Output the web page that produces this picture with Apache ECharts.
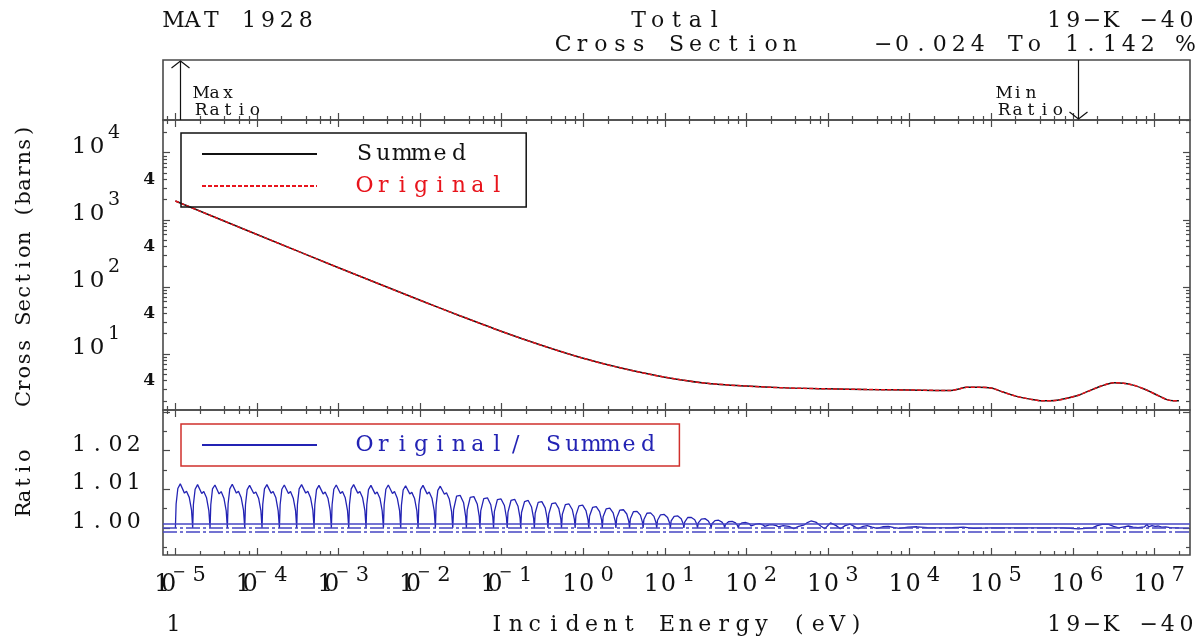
<!DOCTYPE html>
<html>
<head>
<meta charset="utf-8">
<title>MAT 1928 Total Cross Section</title>
<script src="https://cdn.jsdelivr.net/npm/echarts@6/dist/echarts.min.js"></script>
<style>
html,body{margin:0;padding:0;background:#fff;}
#chart{width:1197px;height:638px;}
</style>
</head>
<body>
<div id="chart"></div>
<script>

// labelled decades of the energy axis (exponents)
const xDecades = [-5,-4,-3,-2,-1,0,1,2,3,4,5,6,7]
// labelled decades of the cross section axis
const csDecades = [10,100,1000,10000]
const csFours = [4,40,400,4000]
const ratioLabels = [1.00,1.01,1.02]
// reference lines of the ratio panel
const ratioRefs = [1.001,1.000,0.999]

// Summed total cross section (eV, barns) - Original overlays it
const csEnergy = [1e-5,1e-4,1e-3,1e-2,3e-2,1e-1,3e-1,1,3,10,30,100,300,1e3,3e3,1e4,3.2e4,4e4,5e4,7e4,1e5,1.4e5,2e5,3e5,4.2e5,6e5,8.5e5,1.2e6,1.5e6,2.2e6,3.2e6,4.2e6,5.5e6,7.5e6,1e7,1.4e7,1.7e7,2e7]
const csSummed = [1900,603,193,63,37.5,21.6,13.6,8.6,6.1,4.5,3.7,3.32,3.12,3.02,2.95,2.9,2.85,3.0,3.19,3.2,3.1,2.7,2.35,2.12,2.0,2.02,2.18,2.45,2.74,3.3,3.73,3.66,3.43,3.0,2.55,2.1,2.0,2.0]

// Original/Summed ratio: [log10(E/eV), ratio]
const ratioPts = [
[-5.000,1.0000],[-4.991,1.0062],[-4.970,1.0102],[-4.940,1.0114],[-4.889,1.0090],[-4.864,1.0095],[-4.830,1.0079],[-4.802,1.0046],
[-4.788,1.0000],[-4.779,1.0061],[-4.758,1.0100],[-4.728,1.0112],[-4.677,1.0089],[-4.652,1.0094],[-4.618,1.0078],[-4.590,1.0045],
[-4.575,1.0000],[-4.566,1.0060],[-4.545,1.0101],[-4.515,1.0111],[-4.464,1.0088],[-4.439,1.0094],[-4.405,1.0077],[-4.377,1.0044],
[-4.363,1.0000],[-4.354,1.0062],[-4.333,1.0101],[-4.303,1.0113],[-4.252,1.0090],[-4.227,1.0095],[-4.193,1.0078],[-4.165,1.0046],
[-4.150,1.0000],[-4.141,1.0060],[-4.120,1.0099],[-4.090,1.0110],[-4.039,1.0089],[-4.014,1.0093],[-3.980,1.0077],[-3.952,1.0045],
[-3.938,1.0000],[-3.929,1.0061],[-3.908,1.0101],[-3.878,1.0112],[-3.827,1.0090],[-3.802,1.0094],[-3.768,1.0078],[-3.740,1.0044],
[-3.725,1.0000],[-3.716,1.0060],[-3.695,1.0100],[-3.665,1.0111],[-3.614,1.0089],[-3.589,1.0094],[-3.555,1.0077],[-3.527,1.0045],
[-3.513,1.0000],[-3.504,1.0061],[-3.483,1.0101],[-3.453,1.0112],[-3.402,1.0090],[-3.377,1.0095],[-3.343,1.0078],[-3.315,1.0046],
[-3.300,1.0000],[-3.291,1.0060],[-3.270,1.0099],[-3.240,1.0110],[-3.189,1.0088],[-3.164,1.0093],[-3.130,1.0077],[-3.102,1.0044],
[-3.088,1.0000],[-3.079,1.0060],[-3.058,1.0100],[-3.028,1.0111],[-2.977,1.0089],[-2.952,1.0094],[-2.918,1.0078],[-2.890,1.0045],
[-2.875,1.0000],[-2.866,1.0061],[-2.845,1.0101],[-2.815,1.0112],[-2.764,1.0090],[-2.739,1.0094],[-2.705,1.0078],[-2.677,1.0045],
[-2.663,1.0000],[-2.654,1.0060],[-2.633,1.0099],[-2.603,1.0110],[-2.552,1.0088],[-2.527,1.0093],[-2.493,1.0077],[-2.465,1.0044],
[-2.450,1.0000],[-2.441,1.0060],[-2.420,1.0100],[-2.390,1.0111],[-2.339,1.0089],[-2.314,1.0094],[-2.280,1.0077],[-2.252,1.0045],
[-2.238,1.0000],[-2.229,1.0059],[-2.208,1.0098],[-2.178,1.0109],[-2.127,1.0088],[-2.102,1.0092],[-2.068,1.0076],[-2.040,1.0044],
[-2.025,1.0000],[-2.016,1.0060],[-1.995,1.0099],[-1.965,1.0110],[-1.914,1.0088],[-1.889,1.0093],[-1.855,1.0077],[-1.827,1.0044],
[-1.813,1.0000],[-1.804,1.0059],[-1.783,1.0097],[-1.753,1.0108],[-1.702,1.0087],[-1.677,1.0091],[-1.643,1.0075],[-1.615,1.0043],
[-1.600,1.0000],[-1.590,1.0047],[-1.553,1.0082],[-1.508,1.0084],[-1.467,1.0065],[-1.442,1.0030],
[-1.433,1.0000],[-1.423,1.0046],[-1.386,1.0079],[-1.341,1.0081],[-1.300,1.0062],[-1.275,1.0029],
[-1.267,1.0000],[-1.257,1.0044],[-1.220,1.0076],[-1.175,1.0078],[-1.134,1.0060],[-1.109,1.0028],
[-1.100,1.0000],[-1.090,1.0042],[-1.053,1.0073],[-1.008,1.0075],[-0.967,1.0058],[-0.942,1.0027],
[-0.933,1.0000],[-0.923,1.0041],[-0.886,1.0071],[-0.841,1.0074],[-0.800,1.0056],[-0.775,1.0026],
[-0.767,1.0000],[-0.757,1.0040],[-0.720,1.0068],[-0.675,1.0071],[-0.634,1.0054],[-0.609,1.0025],
[-0.600,1.0000],[-0.590,1.0038],[-0.553,1.0066],[-0.508,1.0068],[-0.467,1.0052],[-0.442,1.0024],
[-0.433,1.0000],[-0.423,1.0036],[-0.386,1.0063],[-0.341,1.0065],[-0.300,1.0050],[-0.275,1.0023],
[-0.267,1.0000],[-0.257,1.0035],[-0.220,1.0060],[-0.175,1.0062],[-0.134,1.0047],[-0.109,1.0022],
[-0.100,1.0000],[-0.090,1.0033],[-0.053,1.0057],[-0.008,1.0059],[0.033,1.0045],[0.058,1.0021],
[0.067,1.0000],[0.077,1.0031],[0.114,1.0053],[0.159,1.0055],[0.200,1.0042],[0.225,1.0020],
[0.233,1.0000],[0.243,1.0029],[0.280,1.0049],[0.325,1.0051],[0.366,1.0039],[0.391,1.0018],
[0.400,1.0000],[0.410,1.0026],[0.447,1.0046],[0.492,1.0047],[0.533,1.0036],[0.558,1.0017],
[0.567,1.0000],[0.577,1.0024],[0.614,1.0042],[0.659,1.0043],[0.700,1.0033],[0.725,1.0015],
[0.733,1.0000],[0.743,1.0022],[0.780,1.0038],[0.825,1.0039],[0.866,1.0030],[0.891,1.0014],
[0.900,1.0000],[0.910,1.0020],[0.947,1.0034],[0.992,1.0035],[1.033,1.0027],[1.058,1.0013],
[1.067,1.0000],[1.077,1.0018],[1.114,1.0030],[1.159,1.0031],[1.200,1.0024],[1.225,1.0011],
[1.233,1.0000],[1.243,1.0015],[1.280,1.0027],[1.325,1.0027],[1.366,1.0021],[1.391,1.0010],
[1.400,1.0000],[1.410,1.0013],[1.447,1.0023],[1.492,1.0024],[1.533,1.0018],[1.558,1.0008],
[1.567,1.0000],[1.577,1.0011],[1.614,1.0019],[1.659,1.0020],[1.700,1.0015],[1.725,1.0007],
[1.733,1.0000],[1.743,1.0009],[1.780,1.0016],[1.825,1.0017],[1.866,1.0013],[1.891,1.0006],
[1.900,1.0000],[1.910,1.0008],[1.947,1.0013],[1.992,1.0014],[2.033,1.0011],[2.058,1.0005],
[2.067,1.0000],[2.077,1.0006],[2.114,1.0010],[2.159,1.0011],[2.200,1.0008],[2.225,1.0004],
[2.233,1.0000],[2.243,1.0004],[2.280,1.0008],[2.325,1.0008],[2.366,1.0006],[2.391,1.0003],
[2.400,1.0000],[2.45,1.0006],[2.52,1.0004],[2.58,0.9998],[2.64,1.0004],[2.70,1.0007],[2.74,1.0013],[2.79,1.0018],
[2.85,1.0015],[2.91,1.0005],[2.96,0.9998],[3.03,1.0013],[3.10,1.0006],[3.15,0.9998],[3.21,1.0006],[3.27,1.0010],
[3.32,1.0004],[3.37,0.9998],[3.43,1.0004],[3.48,1.0006],[3.54,1.0002],[3.60,0.9999],[3.67,1.0003],[3.74,1.0004],
[3.81,1.0001],[3.88,0.9999],[3.98,1.0002],[4.09,1.0003],[4.22,1.0001],[4.37,1.0000],[4.52,1.0001],[4.66,1.0002],
[4.78,0.9999],[5.00,1.0000],[5.50,1.0000],[5.88,1.0000],[5.97,0.9999],[6.07,0.99976],[6.16,0.9999],[6.24,1.0000],
[6.30,1.0006],[6.36,1.0009],[6.44,1.0009],[6.50,1.0004],[6.56,1.0000],[6.63,1.0003],[6.68,1.0005],[6.74,1.0002],
[6.80,1.0001],[6.88,1.0003],[6.91,1.0009],[6.93,1.0003],[6.95,0.9998],[6.97,1.0006],[6.99,1.0011],[7.01,1.0004],
[7.03,1.0001],[7.05,1.0005],[7.07,1.0007],[7.09,1.0002],[7.11,1.0000],[7.14,1.0003],[7.16,1.0004],[7.19,1.0001],
[7.23,1.0000],[7.301,1.0000]
]

// axis extents
const X_MIN = 7.05e-6, X_MAX = 2.735e7
const CS_MIN = 1.46, CS_MAX = 3.07e4
const R_MIN = 0.993, R_MAX = 1.0305

const FONT = '"DejaVu Serif", "Liberation Serif", serif'
const FRAME = '#4a4a4a'
const INK = '#111'
const RED = '#e8141c'
const BLUE = '#2323b4'

function spaced(str, key){
  return Array.from(str).map(ch => '{' + key + '|' + ch + '}').join('')
}

// tick positions
const xMajor = xDecades.map(n => Math.pow(10, n))
const xMinor = []
for(let d=-6; d<=7; d++){
  for(const m of [2,4,6,8]){
    const v = +(m*Math.pow(10,d)).toPrecision(3)
    if(v > X_MIN && v < X_MAX) xMinor.push(v)
  }
}
const csMajor = [1,10,100,1000,10000].filter(v => v > CS_MIN && v < CS_MAX)
const csMinor = []
for(let d=0; d<=4; d++){
  for(let m=2; m<=9; m++){
    const v = m*Math.pow(10,d)
    if(v > CS_MIN && v < CS_MAX) csMinor.push(v)
  }
}
const rMajor = [1.00,1.01,1.02,1.03]
const rMinor = [0.995,1.005,1.015,1.025]

function tick(values, len){
  return {show:true, inside:true, length:len, customValues:values, lineStyle:{color:FRAME, width:1.2}}
}

function logX(grid, pos, values, len, label){
  return {
    type:'log', logBase:10, gridIndex:grid, position:pos, min:X_MIN, max:X_MAX,
    axisLine:{show:false, onZero:false}, splitLine:{show:false},
    axisTick:tick(values, len),
    axisLabel:label || {show:false}
  }
}

function csY(pos, values, len, label){
  return {
    type:'log', logBase:10, gridIndex:1, position:pos, min:CS_MIN, max:CS_MAX,
    axisLine:{show:false, onZero:false}, splitLine:{show:false},
    axisTick:tick(values, len),
    axisLabel:label || {show:false}
  }
}

function ratioY(pos, values, len, label){
  return {
    type:'value', gridIndex:2, position:pos, min:R_MIN, max:R_MAX,
    axisLine:{show:false, onZero:false}, splitLine:{show:false},
    axisTick:tick(values, len),
    axisLabel:label || {show:false}
  }
}

// 10^n labels; a negative exponent puts its minus bar over the 0
const xLabel = {
  show:true, customValues:xMajor, margin:10, padding:[0,0,0,14],
  formatter:v => {
    const n = Math.round(Math.log10(v))
    if(n < 0) return '{d|1}{y|0}{m|\u2212}{e|' + (-n) + '}'
    return '{d|1}{z|0}{e|' + n + '}'
  },
  rich:{
    d:{fontFamily:FONT, fontSize:24, width:12.8, lineHeight:40, color:INK},
    z:{fontFamily:FONT, fontSize:24, width:21, lineHeight:40, color:INK},
    y:{fontFamily:FONT, fontSize:24, width:0.5, lineHeight:40, color:INK},
    m:{fontFamily:FONT, fontSize:16, width:20.5, lineHeight:22, verticalAlign:'top', color:INK},
    e:{fontFamily:FONT, fontSize:21, width:20, lineHeight:20, verticalAlign:'top', color:INK}
  }
}

const csLabel = {
  show:true, customValues:csDecades, margin:41, padding:[0,0,11,0],
  formatter:v => '{d|1}{d|0}{e|' + Math.round(Math.log10(v)) + '}',
  rich:{
    d:{fontFamily:FONT, fontSize:23, width:18, align:'center', lineHeight:48, color:INK},
    e:{fontFamily:FONT, fontSize:19, width:16, align:'center', lineHeight:16, verticalAlign:'top', color:INK}
  }
}

const fourLabel = {
  show:true, customValues:csFours, margin:8, padding:[0,0,6,0],
  formatter:() => '4',
  fontFamily:FONT, fontSize:17, fontWeight:'bold', color:INK
}

const ratioLabel = {
  show:true, customValues:ratioLabels, margin:20, padding:[0,0,11,0],
  formatter:v => spaced(v.toFixed(2), 'r'),
  rich:{ r:{fontFamily:FONT, fontSize:22, width:18.3, align:'center', color:INK} }
}

function gtext(str, x, y, align, size, cell, rotation){
  return {
    type:'text', x:x, y:y, rotation:rotation || 0, silent:true,
    style:{
      text:spaced(str, 'c'),
      align:align, textAlign:align, verticalAlign:'middle', textVerticalAlign:'middle',
      fill:INK, font:size + 'px ' + FONT,
      rich:{ c:{fontFamily:FONT, fontSize:size, width:cell, align:'center', fill:INK} }
    }
  }
}

const ratioData = ratioPts.map(p => [Math.pow(10, p[0]), p[1]])
let iMax = 0, iMin = 0
ratioData.forEach((p, i) => {
  if(p[1] > ratioData[iMax][1]) iMax = i
  if(p[1] < ratioData[iMin][1]) iMin = i
})

const csData = csEnergy.map((e, i) => [e, csSummed[i]])

const legendText = {
  fontFamily:FONT, fontSize:22, lineHeight:14,
  rich:{
    p:{width:33},
    c:{fontFamily:FONT, fontSize:22, width:18.9, align:'center', lineHeight:14}
  }
}

const dashDot = [14,3,3,3]

const chart = echarts.init(document.getElementById('chart'), null, {renderer:'canvas'})

chart.setOption({
  animation:false,
  backgroundColor:'#fff',
  grid:[
    {left:163, top:60, width:1027, height:60, show:true, borderColor:FRAME, borderWidth:1.6, outerBoundsMode:'none'},
    {left:163, top:120, width:1027, height:290, show:true, borderColor:FRAME, borderWidth:1.6, outerBoundsMode:'none'},
    {left:163, top:410, width:1027, height:145, show:true, borderColor:FRAME, borderWidth:1.6, outerBoundsMode:'none'}
  ],
  xAxis:[
    logX(0,'bottom',xMajor,7),
    logX(0,'bottom',xMinor,4),
    logX(1,'bottom',xMajor,7),
    logX(1,'bottom',xMinor,4),
    logX(1,'top',xMajor,7),
    logX(1,'top',xMinor,4),
    logX(2,'bottom',xMajor,7,xLabel),
    logX(2,'bottom',xMinor,4),
    logX(2,'top',xMajor,7),
    logX(2,'top',xMinor,4)
  ],
  yAxis:[
    {type:'value', gridIndex:0, min:0, max:1, show:false},
    csY('left',csMajor,7,csLabel),
    csY('left',csMinor,4,fourLabel),
    csY('right',csMajor,7),
    csY('right',csMinor,4),
    ratioY('left',rMajor,7,ratioLabel),
    ratioY('left',rMinor,4),
    ratioY('right',rMajor,7),
    ratioY('right',rMinor,4)
  ],
  legend:[
    {
      orient:'vertical', left:181, top:133, padding:[10,20,10,20], itemGap:10,
      itemWidth:115, itemHeight:14, borderColor:INK, borderWidth:1.5, selectedMode:false,
      itemStyle:{opacity:0},
      data:[{name:'Summed', textStyle:{color:INK}}, {name:'Original', textStyle:{color:RED}}],
      formatter:name => '{p| }' + spaced(name,'c'),
      textStyle:legendText
    },
    {
      orient:'vertical', left:181, top:424, padding:[10,22,10,20], itemGap:10,
      itemWidth:115, itemHeight:14, borderColor:'#d0302c', borderWidth:1.5, selectedMode:false,
      itemStyle:{opacity:0},
      data:[{name:'Original/ Summed', textStyle:{color:BLUE}}],
      formatter:name => '{p| }' + spaced(name,'c'),
      textStyle:legendText
    }
  ],
  series:[
    {
      name:'Summed', type:'line', xAxisIndex:2, yAxisIndex:1, data:csData,
      symbol:'none', smooth:0.3, lineStyle:{color:INK, width:1.5}, itemStyle:{color:INK}, z:2
    },
    {
      name:'Original', type:'line', xAxisIndex:2, yAxisIndex:1, data:csData,
      symbol:'none', smooth:0.3, lineStyle:{color:RED, width:1.5, type:[4,2]}, itemStyle:{color:RED}, z:3
    },
    {
      name:'Original/ Summed', type:'line', xAxisIndex:6, yAxisIndex:5, data:ratioData,
      symbol:'none', lineStyle:{color:BLUE, width:1.3}, itemStyle:{color:BLUE}, z:3,
      markLine:{
        silent:true, symbol:['none','none'], label:{show:false},
        lineStyle:{color:'#4646c4', width:1.5},
        data:ratioRefs.map((r, i) => [
          {coord:[X_MIN, r], lineStyle:{type:i === 0 ? 'solid' : dashDot}},
          {coord:[X_MAX, r]}
        ])
      }
    },
    {
      name:'arrows', type:'custom', xAxisIndex:0, yAxisIndex:0, silent:true,
      data:[[ratioData[iMax][0], 1], [ratioData[iMin][0], -1]],
      renderItem:(params, api) => {
        const x = Math.round(api.coord([api.value(0), 0])[0]) + 0.5
        const cs = params.coordSys
        const top = cs.y, bot = cs.y + cs.height
        const up = api.value(1) > 0
        const tipY = up ? top + 1 : bot - 1
        const headY = up ? tipY + 7 : tipY - 7
        const cell = 13.4
        const tx = up ? x + 14 : x - 14 - 5*cell
        const rich = {c:{fontFamily:FONT, fontSize:17, width:cell, align:'center', fill:INK}}
        const row = (s, y) => ({
          type:'text', x:tx, y:y,
          style:{text:spaced(s,'c'), rich:rich, fill:INK, font:'17px ' + FONT,
            align:'left', textAlign:'left', verticalAlign:'middle', textVerticalAlign:'middle'}
        })
        return {
          type:'group',
          children:[
            {type:'line', shape:{x1:x, y1:up ? bot : top, x2:x, y2:tipY}, style:{stroke:INK, lineWidth:1.2}},
            {type:'polyline', shape:{points:[[x-9, headY],[x, tipY],[x+9, headY]]}, style:{stroke:INK, fill:null, lineWidth:1.2}},
            row(up ? 'Max' : 'Min', top + 34),
            row('Ratio', top + 51)
          ]
        }
      }
    }
  ],
  graphic:[
    gtext('MAT 1928', 164, 21, 'left', 22, 18.9),
    gtext('Total', 676.5, 21, 'center', 22, 18.9),
    gtext('19\u2212K \u221240', 1196, 21, 'right', 22, 18.9),
    gtext('Cross Section', 676.5, 45.5, 'center', 22, 18.9),
    gtext('\u22120.024 To 1.142 %', 1195, 45.5, 'right', 22, 18.9),
    gtext('1', 164, 625, 'left', 22, 18.9),
    gtext('Incident Energy (eV)', 676.5, 625, 'center', 22, 18.9),
    gtext('19\u2212K \u221240', 1196, 625, 'right', 22, 18.9),
    gtext('Cross Section (barns)', 25, 265, 'center', 21, 13.4, Math.PI/2),
    gtext('Ratio', 25, 482.5, 'center', 21, 13.4, Math.PI/2)
  ]
})

</script>
</body>
</html>
